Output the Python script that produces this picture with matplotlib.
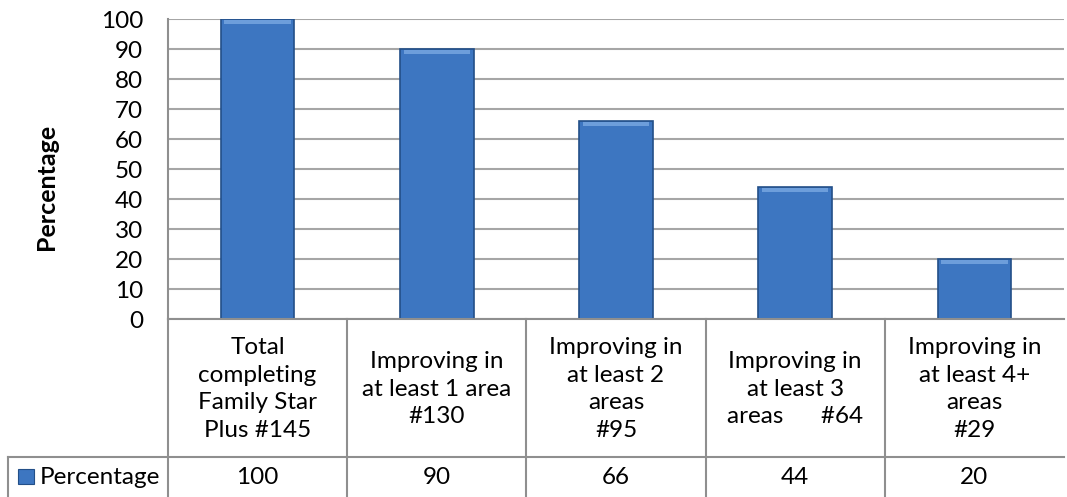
import numpy as np
import matplotlib
matplotlib.use('Agg')
from matplotlib import pyplot
from matplotlib.patches import Rectangle


#(0) Data:
categories = ['Total\ncompleting\nFamily Star\nPlus #145',
              'Improving in\nat least 1 area\n#130',
              'Improving in\nat least 2\nareas\n#95',
              'Improving in\nat least 3\nareas      #64',
              'Improving in\nat least 4+\nareas\n#29']
values     = [100, 90, 66, 44, 20]
series     = 'Percentage'
yticks     = np.arange(0, 101, 10)


#(1) Figure layout (pixels of a 1067x497 canvas):
W, H     = 1067, 497
fontname = 'Lato'
fs       = 17.5
gridc    = '#a6a6a6'
tablec   = '#8f8f8f'
barc     = '#3d76c1'
edgec    = '#234f88'

fig = pyplot.figure(figsize=(W/100., H/100.), dpi=100)
ax  = fig.add_axes([168./W, (H-319.)/H, (1064.-168.)/W, (319.-19.)/H])

x = np.arange(len(values)) + 0.5
ax.bar(x, values, width=0.41, color=barc, edgecolor=edgec, lw=1.2, zorder=3)
# light bevel along bar tops
ax.bar(x, [1.3]*len(values), bottom=np.array(values)-1.6, width=0.37, color='#6d9edb', lw=0, zorder=4)

ax.set_xlim(0, len(values))
ax.set_ylim(0, 100)
ax.set_yticks(yticks)
ax.set_yticklabels([str(v) for v in yticks], name=fontname, size=fs)
ax.tick_params(axis='y', length=0, pad=18)
ax.set_xticks([])
[ax.axhline(v, color=gridc, lw=1.5, zorder=1) for v in yticks]
for s in ['top', 'right', 'bottom']:
	ax.spines[s].set_visible(False)
ax.spines['left'].set_color(tablec)
ax.spines['left'].set_linewidth(1.5)

fig.text(47./W, 1-187./H, series, name=fontname, size=18, weight='bold', rotation=90, ha='center', va='center')


#(2) Data table below the plot:
px  = lambda v: (v-168.)/179.2          # pixel x -> data x
py  = lambda v: (319.-v)/3.0            # pixel y -> data y
kw  = dict(color=tablec, lw=1.5, clip_on=False, zorder=5)
ax.plot([0, len(values)], [0, 0], **kw)
ax.plot([px(8), len(values)], [py(457), py(457)], **kw)
ax.plot([px(8), px(8)], [py(457), py(500)], **kw)
for i in range(len(values)):
	ax.plot([i, i], [0, py(500)], **kw)

for xi, lab, v in zip(x, categories, values):
	ax.text(xi, py(389), lab, name=fontname, size=fs, ha='center', va='center', linespacing=1.38, clip_on=False)
	ax.text(xi, py(477), str(v), name=fontname, size=fs, ha='center', va='center', clip_on=False)

ax.add_patch(Rectangle((px(18), py(484)), px(34)-px(18), py(469)-py(484), facecolor=barc, edgecolor=edgec, lw=0.8, clip_on=False, zorder=6))
ax.text(px(40), py(477), series, name=fontname, size=fs, ha='left', va='center', clip_on=False)

fig.savefig('out.png', dpi=100)
